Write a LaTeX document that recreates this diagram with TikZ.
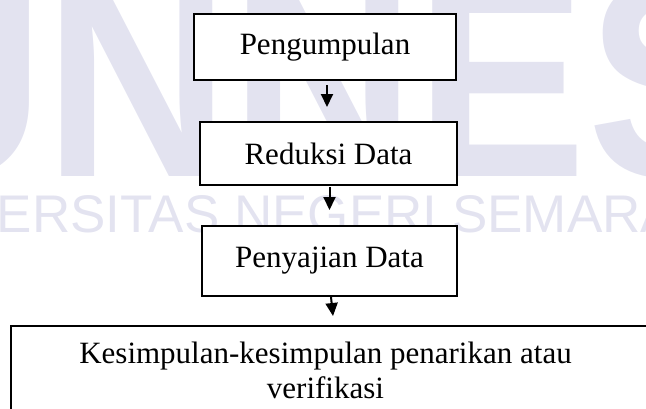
\documentclass[tikz,border=0pt]{standalone}
\usepackage{fontspec}
\setmainfont{Liberation Serif}
\newfontfamily\wmfont{Liberation Sans}
\usetikzlibrary{arrows.meta,calc}
\definecolor{wmcolor}{RGB}{227,227,240}
\tikzset{
  stepbox/.style={draw=black, line width=2pt, fill=white, inner sep=0pt,
    font=\fontsize{31}{35}\selectfont, align=center},
  flowarrow/.style={line width=2pt, -{Triangle[width=12pt,length=13pt]}},
  wmtext/.style={text=wmcolor, inner sep=0pt, anchor=base west}
}
\begin{document}
\begin{tikzpicture}[x=1pt,y=-1pt]
  \useasboundingbox (0,0) rectangle (646,408);
  \clip (0,0) rectangle (646,408);
  % background watermark
  \node[wmtext, yscale=1.1, font=\wmfont\bfseries\fontsize{257}{257}\selectfont] (wmbig) at (-141,176) {UNNES};
  \node[wmtext, font=\wmfont\fontsize{53}{53}\selectfont] (wmline) at (-130,232) {UNIVERSITAS NEGERI SEMARANG};
  % flow boxes
  \node[stepbox, minimum width=262pt, minimum height=66pt] (b1) at (325,47) {Pengumpulan};
  \node[stepbox, minimum width=257pt, minimum height=63pt] (b2) at (328.5,153.5) {Reduksi Data};
  \node[stepbox, minimum width=255pt, minimum height=70pt] (b3) at (329.5,261) {Penyajian Data};
  \node[stepbox, minimum width=649pt, minimum height=94pt, text depth=0pt] (b4) at (335.5,373) {};
  \node[font=\fontsize{31}{35}\selectfont, align=center, inner sep=0pt, anchor=north] (b4text)
    at ($(b4.north)+(-10,17)$) {Kesimpulan-kesimpulan penarikan atau\\verifikasi};
  % connectors
  \draw[flowarrow] ($(b1.south)+(2,4)$) -- ($(b2.north)+(-1.5,-14)$);
  \draw[flowarrow] ($(b2.south)+(1,1)$) -- ($(b3.north)+(0,-15)$);
  \draw[flowarrow] ($(b3.south)+(1.5,0)$) -- ($(b4.north)+(-2.5,-9)$);
\end{tikzpicture}
\end{document}
